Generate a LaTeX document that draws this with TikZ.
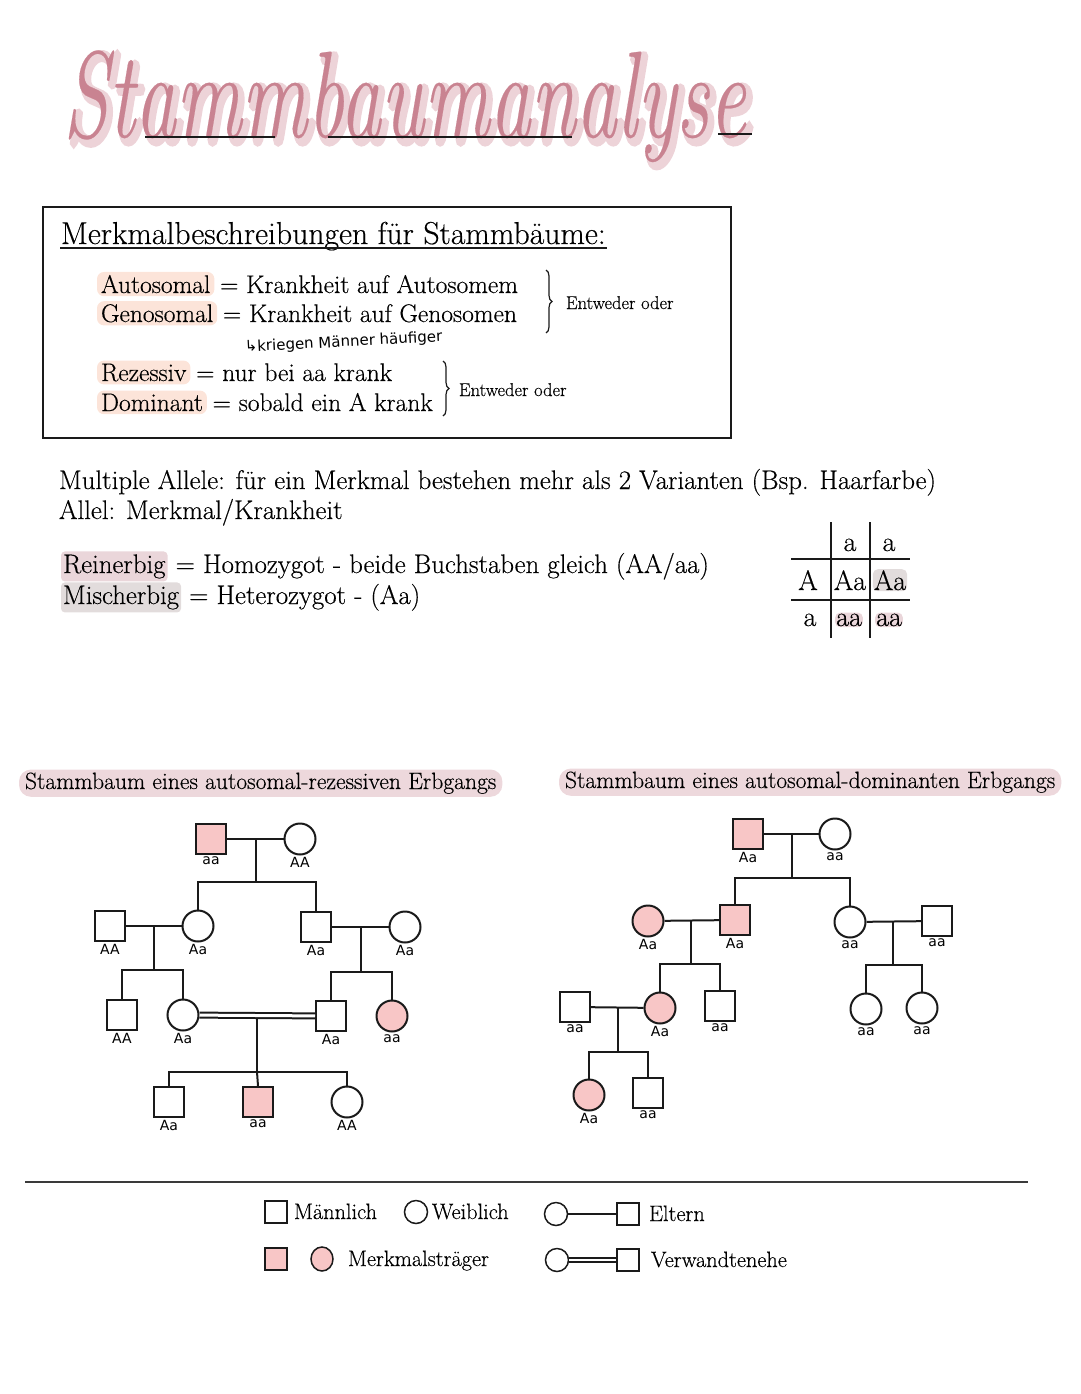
\documentclass[tikz,border=0pt]{standalone}
\usepackage{fontspec}
\setmainfont{Latin Modern Roman}[FakeBold=0.35]
\newfontfamily\halofont{Latin Modern Roman}[FakeBold=7]
\newfontfamily\titlefont{Latin Modern Roman}[FakeBold=0.2]
\newfontfamily\handfont{DejaVu Sans}
\usetikzlibrary{calc,decorations.pathreplacing,shapes.geometric}
\definecolor{pinkfill}{HTML}{F8C6C6}
\definecolor{peach}{HTML}{FCE4D9}
\definecolor{band}{HTML}{EDD8DC}
\definecolor{reinhl}{HTML}{EAD6DA}
\definecolor{mischhl}{HTML}{E2DCDC}
\definecolor{titlepink}{HTML}{C98391}
\definecolor{titlehalo}{HTML}{EDD3D8}
\definecolor{ink}{HTML}{1A1A1A}
\definecolor{rulegray}{HTML}{3A3A3A}
\begin{document}
\begin{tikzpicture}[x=1pt,y=-1pt,line width=2pt,
  sq/.style={draw=ink,rectangle,minimum size=30pt,inner sep=0pt,line width=2pt,fill=white},
  ci/.style={draw=ink,circle,minimum size=31pt,inner sep=0pt,line width=2pt,fill=white},
  aff/.style={fill=pinkfill},
  gl/.style={font=\handfont\fontsize{14}{14}\selectfont,inner sep=1pt},
  every label/.style={gl},
  txt/.style={anchor=base west,inner sep=0pt,font=\fontsize{25.5}{28}\selectfont},
  dtxt/.style={anchor=base west,inner sep=0pt,font=\fontsize{26.8}{30}\selectfont},
  hl/.style={anchor=base west,inner xsep=4pt,inner ysep=3pt,rounded corners=7pt,font=\fontsize{25.5}{28}\selectfont},
  dhl/.style={anchor=base west,inner xsep=2pt,inner ysep=3pt,rounded corners=4pt,font=\fontsize{26.8}{30}\selectfont},
  small/.style={anchor=base west,inner sep=0pt,font=\fontsize{18.5}{20}\selectfont},
  legend/.style={anchor=base west,inner sep=0pt,font=\fontsize{22.3}{24}\selectfont},
  pun/.style={anchor=base,inner sep=1pt,font=\fontsize{28}{30}\selectfont},
  ptitle/.style={anchor=base west,fill=band,rounded corners=12pt,inner xsep=6pt,inner ysep=3pt,font=\fontsize{23.6}{26}\selectfont},
  lsq/.style={sq,minimum size=22pt,line width=1.5pt},
  lci/.style={ci,minimum size=23pt,line width=1.5pt},
  conn/.style={draw=ink,line width=2pt},
  kin/.style={draw=ink,line width=2pt,double=white,double distance=3pt}
]
\useasboundingbox (0,0) rectangle (1080,1394);

% ---------- title ----------
\node[anchor=base west,inner sep=0pt,text=titlehalo,font=\halofont\fontsize{82}{82}\selectfont\itshape]
  (halo) at (66,141) {\scalebox{1}[1.5]{Stammbaumanalyse}};
\node[anchor=base west,inner sep=0pt,text=titlepink,font=\titlefont\fontsize{82}{82}\selectfont\itshape]
  (title) at (62,137) {\scalebox{1}[1.5]{Stammbaumanalyse}};
\coordinate (u1a) at (145,137); \coordinate (u1b) at (275,137);
\coordinate (u2a) at (328,137); \coordinate (u2b) at (572,137);
\coordinate (u3a) at (718,134); \coordinate (u3b) at (752,134);
\draw[ink,line width=1.5pt] (u1a) -- (u1b) (u2a) -- (u2b) (u3a) -- (u3b);

% ---------- box ----------
\draw[ink,line width=1.5pt] (43,207) rectangle (731,438);
\node[anchor=base west,inner sep=0pt,font=\fontsize{31.7}{34}\selectfont] (mb) at (60,244) {Merkmalbeschreibungen für Stammbäume:};
\draw[ink,line width=1.3pt] ($(mb.base west)+(0,4)$) -- ($(mb.base east)+(0,4)$);

\node[hl,fill=peach] (w1) at (96,293) {Autosomal};
\node[txt] (r1) at ([xshift=-4pt]w1.base east) {\ = Krankheit auf Autosomem};
\node[hl,fill=peach] (w2) at (96,322) {Genosomal};
\node[txt] (r2) at ([xshift=-4pt]w2.base east) {\ = Krankheit auf Genosomen};
\draw[decorate,decoration={brace,amplitude=6pt},ink,line width=1.2pt] (546,270) -- (546,333);
\node[small] (e1) at (565,309) {Entweder oder};
\node[anchor=base west,inner sep=0pt,rotate=3,font=\handfont\fontsize{15}{17}\selectfont] (note) at (244,352) {↳kriegen Männer häufiger};

\node[hl,fill=peach] (w3) at (96,381) {Rezessiv};
\node[txt] (r3) at ([xshift=-4pt]w3.base east) {\ = nur bei aa krank};
\node[hl,fill=peach] (w4) at (96,411) {Dominant};
\node[txt] (r4) at ([xshift=-4pt]w4.base east) {\ = sobald ein A krank};
\draw[decorate,decoration={brace,amplitude=6pt},ink,line width=1.2pt] (443,361) -- (443,416);
\node[small] (e2) at (458,396) {Entweder oder};

% ---------- definitions ----------
\node[dtxt] (ma) at (58,489) {Multiple Allele: für ein Merkmal bestehen mehr als 2 Varianten (Bsp. Haarfarbe)};
\node[dtxt] (al) at (58,519) {Allel: Merkmal/Krankheit};
\node[dhl,fill=reinhl] (w5) at (60,573) {Reinerbig};
\node[dtxt] (r5) at ([xshift=-2pt]w5.base east) {\ = Homozygot - beide Buchstaben gleich (AA/aa)};
\node[dhl,fill=mischhl] (w6) at (60,604) {Mischerbig};
\node[dtxt] (r6) at ([xshift=-2pt]w6.base east) {\ = Heterozygot - (Aa)};

% ---------- Punnett square ----------
\coordinate (pv1t) at (831,522); \coordinate (pv1b) at (831,638);
\coordinate (pv2t) at (870,522); \coordinate (pv2b) at (870,638);
\coordinate (ph1l) at (791,559); \coordinate (ph1r) at (910,559);
\coordinate (ph2l) at (791,600); \coordinate (ph2r) at (910,600);
\node[pun,fill=mischhl,rounded corners=5pt] (p22) at (890,590) {Aa};
\node[pun,fill=reinhl,rounded corners=5pt] (p31) at (849,626) {aa};
\node[pun,fill=reinhl,rounded corners=5pt] (p32) at (889,626) {aa};
\draw[ink,line width=1.5pt] (pv1t) -- (pv1b) (pv2t) -- (pv2b) (ph1l) -- (ph1r) (ph2l) -- (ph2r);
\node[pun] (p01) at (850,551) {a};
\node[pun] (p02) at (889,551) {a};
\node[pun] (p10) at (808,590) {A};
\node[pun] (p21) at (850,590) {Aa};
\node[pun] (p20) at (810,626) {a};

% ---------- pedigree titles ----------
\node[ptitle] (t1) at (18,789) {Stammbaum eines autosomal-rezessiven Erbgangs};
\node[ptitle] (t2) at (558,788) {Stammbaum eines autosomal-dominanten Erbgangs};

% ---------- left pedigree (recessive) ----------
\node[sq,aff,label=below:aa] (L1m) at (211,839) {};
\node[ci,label=below:AA] (L1f) at (300,839) {};
\node[sq,label=below:AA] (L2m) at (110,926) {};
\node[ci,label=below:Aa] (L2f) at (198,926) {};
\node[sq,label=below:Aa] (L2m2) at (316,927) {};
\node[ci,label=below:Aa] (L2f2) at (405,927) {};
\node[sq,label=below:AA] (L3m) at (122,1015) {};
\node[ci,label=below:Aa] (L3f) at (183,1015) {};
\node[sq,label=below:Aa] (L3m2) at (331,1016) {};
\node[ci,aff,label=below:aa] (L3f2) at (392,1016) {};
\node[sq,label=below:Aa] (L4a) at (169,1102) {};
\node[sq,aff,label=below:aa] (L4b) at (258,1102) {};
\node[ci,label=below:AA] (L4c) at (347,1102) {};

\coordinate (L1c) at (255.5,839); \coordinate (L1s) at (255.5,882);
\coordinate (L2c) at (154,926);   \coordinate (L2s) at (154,970);
\coordinate (L2c2) at (361,927);  \coordinate (L2s2) at (361,972);
\coordinate (L3c) at (257,1019);  \coordinate (L3s) at (257,1072);

\draw[conn] (L1m) -- (L1f);
\draw[conn] (L1c) -- (L1s);
\draw[conn] (L2f.north) |- (L1s) -| (L2m2.north);
\draw[conn] (L2m) -- (L2f);
\draw[conn] (L2c) -- (L2s);
\draw[conn] (L3m.north) |- (L2s) -| (L3f.north);
\draw[conn] (L2m2) -- (L2f2);
\draw[conn] (L2c2) -- (L2s2);
\draw[conn] (L3m2.north) |- (L2s2) -| (L3f2.north);
\draw[kin] (L3f) -- (L3m2);
\draw[conn] (L3c) -- (L3s);
\draw[conn] (L4a.north) |- (L3s) -| (L4c.north);
\draw[conn] (L3s) -- (L4b.north);

% ---------- right pedigree (dominant) ----------
\node[sq,aff,label=below:Aa] (R1m) at (748,834) {};
\node[ci,label=below:aa] (R1f) at (835,834) {};
\node[ci,aff,label=below:Aa] (R2f) at (648,921) {};
\node[sq,aff,label=below:Aa] (R2m) at (735,920) {};
\node[ci,label=below:aa] (R2f2) at (850,922) {};
\node[sq,label=below:aa] (R2m2) at (937,921) {};
\node[sq,label=below:aa] (R3m) at (575,1007) {};
\node[ci,aff,label=below:Aa] (R3f) at (660,1008) {};
\node[sq,label=below:aa] (R3m2) at (720,1006) {};
\node[ci,label=below:aa] (R3fa) at (866,1009) {};
\node[ci,label=below:aa] (R3fb) at (922,1008) {};
\node[ci,aff,label=below:Aa] (R4f) at (589,1095) {};
\node[sq,label=below:aa] (R4m) at (648,1093) {};

\coordinate (R1c) at (792,834); \coordinate (R1s) at (792,878);
\coordinate (R2c) at (691,920); \coordinate (R2s) at (691,964);
\coordinate (R2c2) at (893,922); \coordinate (R2s2) at (893,965);
\coordinate (R3c) at (618,1008); \coordinate (R3s) at (618,1052);

\draw[conn] (R1m) -- (R1f);
\draw[conn] (R1c) -- (R1s);
\draw[conn] (R2m.north) |- (R1s) -| (R2f2.north);
\draw[conn] (R2f) -- (R2m);
\draw[conn] (R2c) -- (R2s);
\draw[conn] (R3f.north) |- (R2s) -| (R3m2.north);
\draw[conn] (R2f2) -- (R2m2);
\draw[conn] (R2c2) -- (R2s2);
\draw[conn] (R3fa.north) |- (R2s2) -| (R3fb.north);
\draw[conn] (R3m) -- (R3f);
\draw[conn] (R3c) -- (R3s);
\draw[conn] (R4f.north) |- (R3s) -| (R4m.north);

% ---------- rule ----------
\coordinate (ruleL) at (25,1182); \coordinate (ruleR) at (1028,1182);
\draw[rulegray,line width=2.2pt] (ruleL) -- (ruleR);

% ---------- legend ----------
\node[lsq] (k1) at (276,1212) {};
\node[legend] (k1t) at (293,1219) {Männlich};
\node[lci] (k2) at (416,1212) {};
\node[legend] (k2t) at (431,1219) {Weiblich};
\node[lci] (k3) at (556,1214) {};
\node[lsq] (k4) at (628,1214) {};
\draw[ink,line width=1.5pt] (k3) -- (k4);
\node[legend] (k4t) at (648,1221) {Eltern};
\node[lsq,aff] (k5) at (276,1259) {};
\node[ellipse,draw=ink,line width=1.5pt,fill=pinkfill,inner sep=0pt,minimum width=22pt,minimum height=24pt] (k6) at (322,1259) {};
\node[legend] (k6t) at (347,1266) {Merkmalsträger};
\node[lci] (k7) at (557,1260) {};
\node[lsq] (k8) at (628,1260) {};
\draw[ink,line width=1.3pt,double=white,double distance=2.5pt] (k7) -- (k8);
\node[legend] (k8t) at (650,1267) {Verwandtenehe};
\end{tikzpicture}
\end{document}
